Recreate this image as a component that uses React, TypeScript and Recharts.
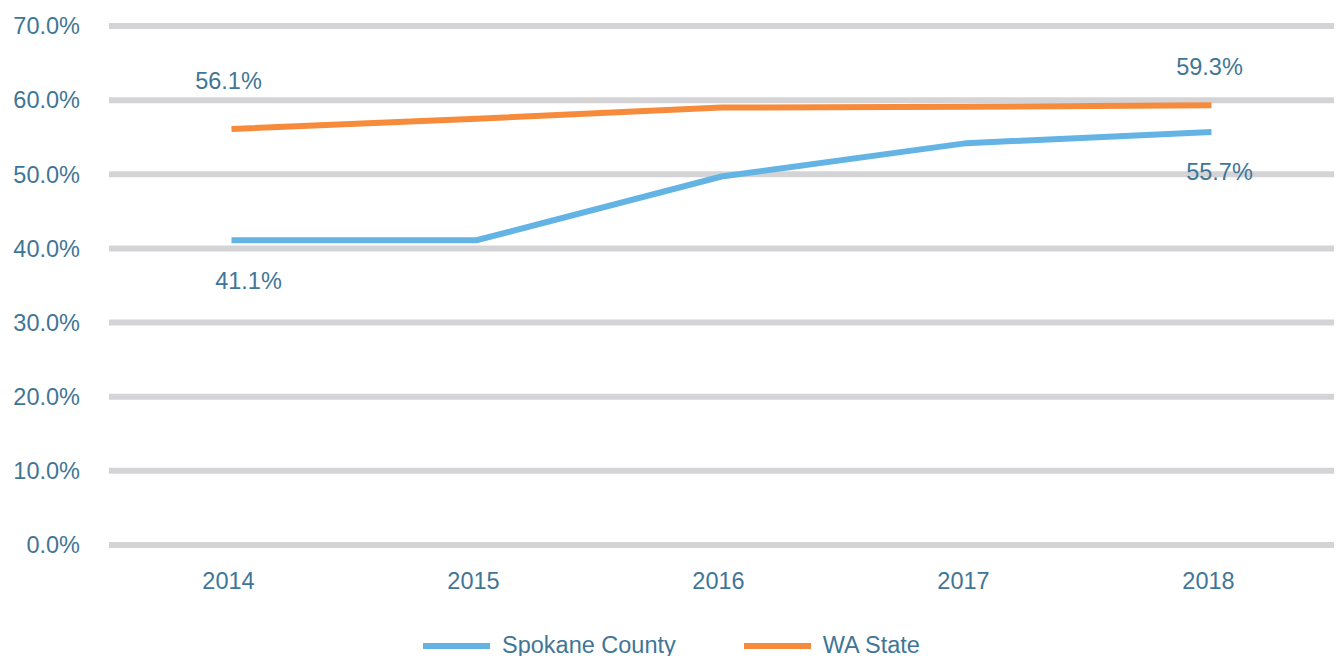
import React from "react";
import { LineChart, Line, XAxis, YAxis, CartesianGrid, Legend } from "recharts";

const years = ["2014", "2015", "2016", "2017", "2018"];
const spokaneCounty = [41.1, 41.1, 49.7, 54.2, 55.7];
const waState = [56.1, 57.5, 59.0, 59.1, 59.3];
const yTicks = [0, 10, 20, 30, 40, 50, 60, 70];

const data = years.map((year, i) => ({ year, spokane: spokaneCounty[i], wa: waState[i] }));

const FONT = '"Liberation Sans", Arial, sans-serif';
const TEXT = "#3f7697";
const BLUE = "#63b4e4";
const ORANGE = "#f68b3c";
const GRID = "#d4d4d6";

// hand-placed label nudges (only first and last points are labelled)
const waLabelPos: Record<number, [number, number]> = { 0: [-3, -48], 4: [-2, -38] };
const spokaneLabelPos: Record<number, [number, number]> = { 0: [17, 41], 4: [8, 40] };

const makeLabel = (pos: Record<number, [number, number]>) => (props: any) => {
  const { x, y, value, index } = props;
  const off = pos[index];
  if (!off) return null;
  return (
    <text
      key={`lbl-${index}`}
      x={x + off[0]}
      y={y + off[1]}
      textAnchor="middle"
      dominantBaseline="central"
      fill={TEXT}
      fontSize={23.5}
      fontFamily={FONT}
    >
      {`${Number(value).toFixed(1)}%`}
    </text>
  );
};

const renderLegend = () => (
  <div
    style={{
      display: "flex",
      alignItems: "flex-start",
      height: 28,
      paddingLeft: 423,
      fontFamily: FONT,
      fontSize: 23.5,
      color: TEXT,
    }}
  >
    {[
      { name: "Spokane County", color: BLUE },
      { name: "WA State", color: ORANGE },
    ].map((item, i) => (
      <div key={item.name} style={{ display: "flex", alignItems: "flex-start", marginLeft: i ? 68 : 0 }}>
        <span style={{ display: "block", width: 67, height: 6, marginTop: 15, background: item.color }} />
        <span style={{ display: "block", marginLeft: 12, marginTop: 6, lineHeight: 1, whiteSpace: "nowrap" }}>
          {item.name}
        </span>
      </div>
    ))}
  </div>
);

export default function App() {
  return (
    <div style={{ position: "absolute", left: 0, top: 0 }}>
      <LineChart width={1339} height={656} data={data} margin={{ top: 26, right: 5, bottom: 0, left: 0 }}>
        <CartesianGrid vertical={false} stroke={GRID} strokeWidth={6} />
        <XAxis
          dataKey="year"
          axisLine={false}
          tickLine={false}
          tickSize={0}
          tickMargin={27}
          height={83}
          padding={{ left: 122.5, right: 122.5 }}
          tick={{ fill: TEXT, fontSize: 23.5, fontFamily: FONT, dx: -3 }}
        />
        <YAxis
          domain={[0, 70]}
          ticks={yTicks}
          axisLine={false}
          tickLine={false}
          tickSize={0}
          tickMargin={29}
          width={109}
          tickFormatter={(v: number) => `${v.toFixed(1)}%`}
          tick={{ fill: TEXT, fontSize: 23.5, fontFamily: FONT }}
        />
        <Legend verticalAlign="bottom" content={renderLegend} wrapperStyle={{ left: 0, width: 1339 }} />
        <Line
          type="linear"
          dataKey="spokane"
          name="Spokane County"
          stroke={BLUE}
          strokeWidth={6}
          dot={false}
          activeDot={false}
          isAnimationActive={false}
          label={makeLabel(spokaneLabelPos)}
        />
        <Line
          type="linear"
          dataKey="wa"
          name="WA State"
          stroke={ORANGE}
          strokeWidth={6}
          dot={false}
          activeDot={false}
          isAnimationActive={false}
          label={makeLabel(waLabelPos)}
        />
      </LineChart>
    </div>
  );
}
